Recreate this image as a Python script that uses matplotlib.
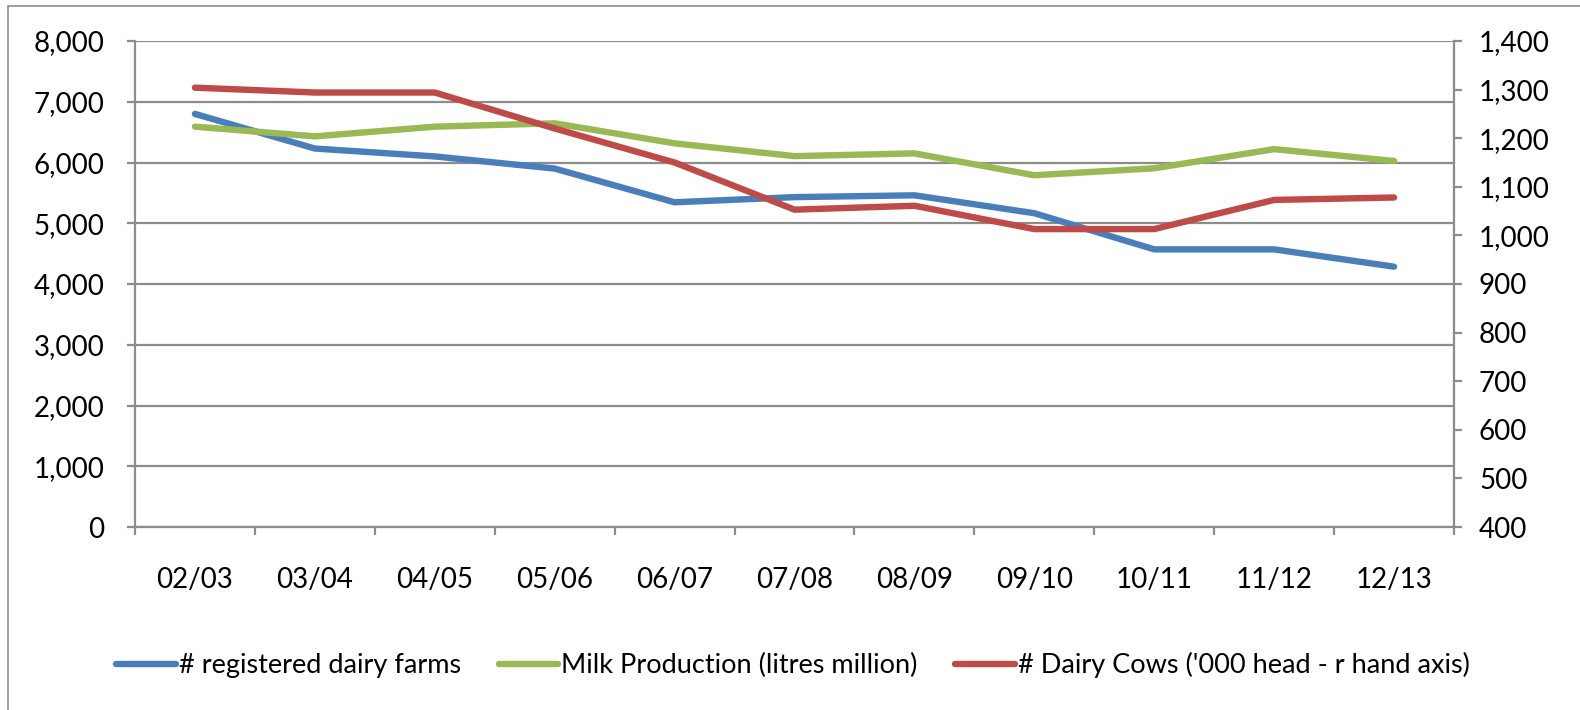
import matplotlib
matplotlib.use("Agg")
import matplotlib.pyplot as plt
from matplotlib.patches import Rectangle
from matplotlib.ticker import FuncFormatter, MultipleLocator

plt.rcParams['font.family'] = ['Lato', 'DejaVu Sans']

years = ["02/03", "03/04", "04/05", "05/06", "06/07", "07/08",
         "08/09", "09/10", "10/11", "11/12", "12/13"]
farms = [6800, 6230, 6100, 5900, 5345, 5430, 5460, 5165, 4570, 4570, 4285]
milk = [6590, 6430, 6590, 6645, 6315, 6105, 6150, 5790, 5905, 6220, 6025]
cows = [1304, 1294, 1294, 1220, 1150, 1053, 1061, 1013, 1013, 1073, 1078]

labels = ["# registered dairy farms", "Milk Production (litres million)",
          "# Dairy Cows ('000 head - r hand axis)"]
colors = ["#4A7EBB", "#98B954", "#BE4B48"]

W, H = 1580, 710
fig = plt.figure(figsize=(W / 100, H / 100), dpi=100)
fig.patches.append(Rectangle((8 / W, -0.1), 1.2, 1 - 6 / H + 0.1, transform=fig.transFigure,
                             fill=False, edgecolor="#8C8C8C", linewidth=1.2))

L, R, T, B = 135, 1454, 41, 527
ax = fig.add_axes([L / W, 1 - B / H, (R - L) / W, (B - T) / H])
ax2 = ax.twinx()

x = list(range(len(years)))
lw = 4.6
l1, = ax.plot(x, farms, color=colors[0], lw=lw, solid_capstyle="round", solid_joinstyle="round", label=labels[0])
l2, = ax.plot(x, milk, color=colors[1], lw=lw, solid_capstyle="round", solid_joinstyle="round", label=labels[1])
l3, = ax2.plot(x, cows, color=colors[2], lw=lw, solid_capstyle="round", solid_joinstyle="round", label=labels[2])

ax.set_xlim(-0.5, len(years) - 0.5)
ax.set_ylim(0, 8000)
ax2.set_ylim(400, 1400)
ax.yaxis.set_major_locator(MultipleLocator(1000))
ax2.yaxis.set_major_locator(MultipleLocator(100))
fmt = FuncFormatter(lambda v, p: f"{int(round(v)):,}")
ax.yaxis.set_major_formatter(fmt)
ax2.yaxis.set_major_formatter(fmt)

ax.set_xticks([i + 0.5 for i in range(-1, len(years))], minor=False)
ax.set_xticklabels([])
ax.set_xticks(x, minor=True)
ax.set_xticklabels(years, minor=True)

gc = "#8C8C8C"
ax.grid(axis="y", color=gc, lw=1.6)
ax.set_axisbelow(True)
for a in (ax, ax2):
    for s in a.spines.values():
        s.set_visible(False)
ax.spines["left"].set_visible(True)
ax.spines["left"].set_color(gc)
ax.spines["left"].set_linewidth(1.6)
ax.spines["bottom"].set_visible(True)
ax.spines["bottom"].set_color(gc)
ax.spines["bottom"].set_linewidth(1.6)
ax2.spines["right"].set_visible(True)
ax2.spines["right"].set_color(gc)
ax2.spines["right"].set_linewidth(1.6)

fs = 20
ax.tick_params(axis="y", which="major", length=6, width=1.6, color=gc, labelsize=fs, pad=16, labelcolor="black")
ax2.tick_params(axis="y", which="major", length=6, width=1.6, color=gc, labelsize=fs, pad=12, labelcolor="black")
ax.tick_params(axis="x", which="major", length=6, width=1.6, color=gc)
ax.tick_params(axis="x", which="minor", length=0, labelsize=fs, pad=29, labelcolor="black")

fig.legend([l1, l2, l3], labels, loc="center", bbox_to_anchor=(793 / W, 1 - 665 / H),
           ncol=3, frameon=False, fontsize=19.5, handlelength=2.2, handletextpad=0.1,
           columnspacing=1.4)

fig.savefig("out.png", dpi=100)
